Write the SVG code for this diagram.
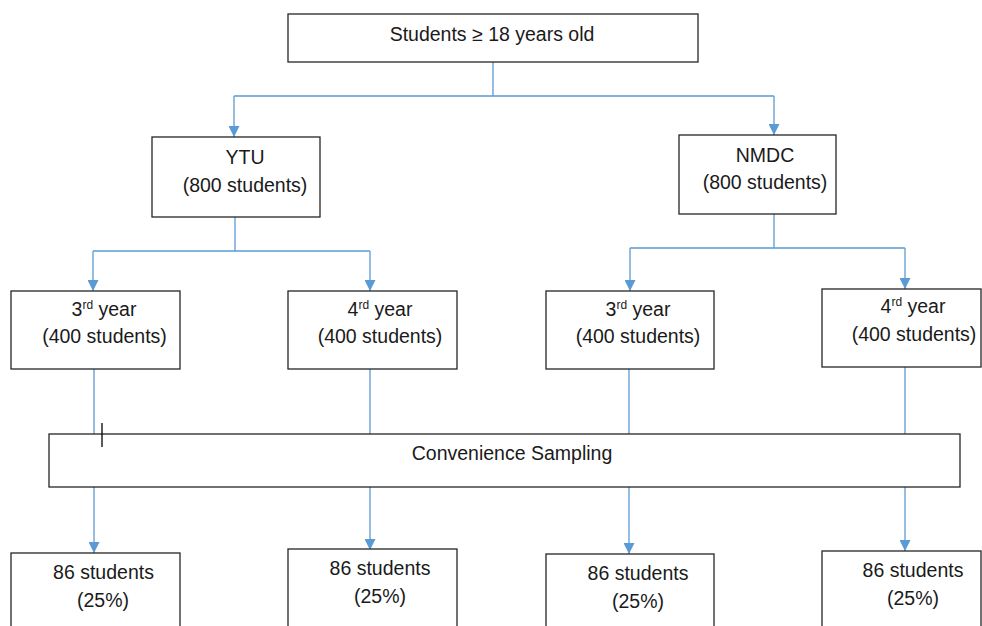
<svg xmlns="http://www.w3.org/2000/svg" width="982" height="626" viewBox="0 0 982 626">
<style>
.box{fill:#fff;stroke:#262626;stroke-width:1.3}
.ln{fill:none;stroke:#5B9BD5;stroke-width:1.3}
.t{font-family:"Liberation Sans",Arial,sans-serif;font-size:19.5px;fill:#1a1a1a;text-anchor:middle}
.sup{font-size:12px}
</style>
<defs>
<marker id="ah" markerUnits="userSpaceOnUse" markerWidth="11" markerHeight="11" viewBox="0 0 10 10" refX="10" refY="5" orient="auto">
<path d="M0,0 L10,5 L0,10 z" fill="#5B9BD5"/>
</marker>
</defs>
<rect width="982" height="626" fill="#fff"/>
<g id="connectors">
<path class="ln" d="M493,62 V96 M234,96 H774"/>
<path class="ln" d="M234,96 V137" marker-end="url(#ah)"/>
<path class="ln" d="M774,96 V135" marker-end="url(#ah)"/>
<path class="ln" d="M235,217 V251 M93,251 H370 M774,214 V248 M630,248 H905"/>
<path class="ln" d="M93,251 V291" marker-end="url(#ah)"/>
<path class="ln" d="M370,251 V291" marker-end="url(#ah)"/>
<path class="ln" d="M630,248 V291" marker-end="url(#ah)"/>
<path class="ln" d="M905,248 V289" marker-end="url(#ah)"/>
<path class="ln" d="M94,369 V434 M370,369 V434 M629,369 V434 M905,367 V434"/>
<path class="ln" d="M94,487 V553" marker-end="url(#ah)"/>
<path class="ln" d="M370,487 V550" marker-end="url(#ah)"/>
<path class="ln" d="M629,487 V554" marker-end="url(#ah)"/>
<path class="ln" d="M905,487 V551" marker-end="url(#ah)"/>
</g>
<g id="root"><rect class="box" x="288" y="14" width="410" height="48"/><text class="t" x="492" y="41">Students ≥ 18 years old</text></g>
<g id="ytu"><rect class="box" x="152" y="137" width="168" height="80"/><text class="t" x="245" y="164">YTU</text><text class="t" x="245" y="192">(800 students)</text></g>
<g id="nmdc"><rect class="box" x="679" y="135" width="157" height="79"/><text class="t" x="765" y="162">NMDC</text><text class="t" x="765" y="189">(800 students)</text></g>
<g id="ytu3"><rect class="box" x="11" y="291" width="169" height="78"/><text class="t" x="104" y="316">3<tspan class="sup" dy="-7">rd</tspan><tspan dy="7"> year</tspan></text><text class="t" x="104.5" y="343">(400 students)</text></g>
<g id="ytu4"><rect class="box" x="288" y="291" width="169" height="78"/><text class="t" x="380" y="316">4<tspan class="sup" dy="-7">rd</tspan><tspan dy="7"> year</tspan></text><text class="t" x="380" y="343">(400 students)</text></g>
<g id="nmdc3"><rect class="box" x="546" y="291" width="168" height="78"/><text class="t" x="638" y="316">3<tspan class="sup" dy="-7">rd</tspan><tspan dy="7"> year</tspan></text><text class="t" x="638" y="343">(400 students)</text></g>
<g id="nmdc4"><rect class="box" x="822" y="289" width="159" height="78"/><text class="t" x="913" y="313">4<tspan class="sup" dy="-7">rd</tspan><tspan dy="7"> year</tspan></text><text class="t" x="914" y="341">(400 students)</text></g>
<g id="sampling"><rect class="box" x="49" y="434" width="911" height="53"/><text class="t" x="512" y="460">Convenience Sampling</text><path d="M102,423 V447" stroke="#000" stroke-width="1.3"/></g>
<g id="s1"><rect class="box" x="11" y="553" width="169" height="90"/><text class="t" x="103.5" y="579">86 students</text><text class="t" x="103" y="607">(25%)</text></g>
<g id="s2"><rect class="box" x="288" y="549" width="169" height="90"/><text class="t" x="380" y="575">86 students</text><text class="t" x="380" y="603">(25%)</text></g>
<g id="s3"><rect class="box" x="546" y="554" width="168" height="90"/><text class="t" x="638" y="580">86 students</text><text class="t" x="638" y="608">(25%)</text></g>
<g id="s4"><rect class="box" x="822" y="551" width="159" height="90"/><text class="t" x="913" y="577">86 students</text><text class="t" x="913" y="605">(25%)</text></g>
</svg>
